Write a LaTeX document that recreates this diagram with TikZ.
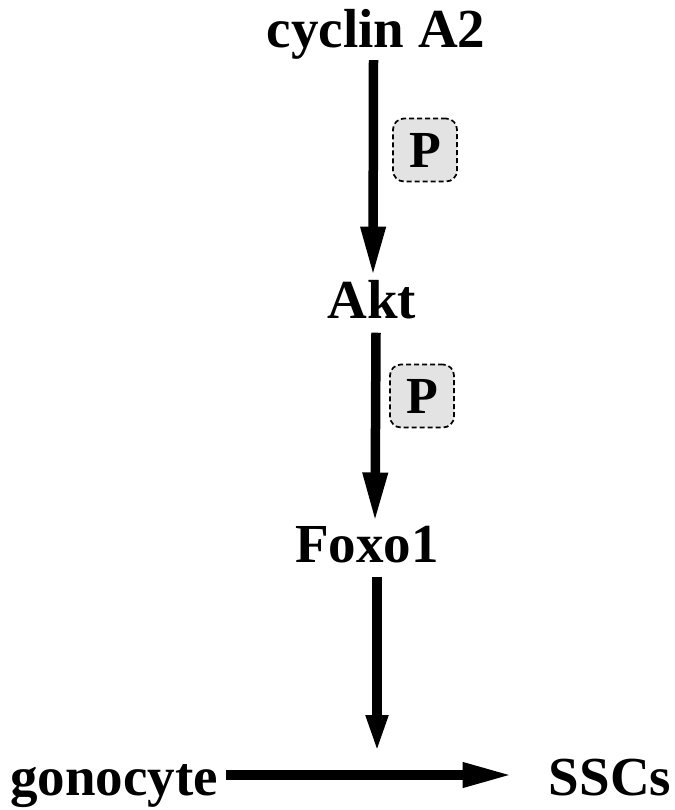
\documentclass[tikz,border=0pt]{standalone}
\usepackage{fontspec}
\setmainfont{Liberation Serif}
\usetikzlibrary{arrows.meta}
\tikzset{
  label/.style={font=\fontsize{55}{60}\selectfont\bfseries, inner sep=0pt, anchor=base},
  flow/.style={line width=9.5pt, -{Triangle[length=50pt,width=23pt]}},
  phos/.style={draw, line width=1.7pt, dash pattern=on 5pt off 3pt,
    rounded corners=11pt, minimum width=64pt, minimum height=63pt,
    fill=black!11, inner sep=0pt, font=\fontsize{52}{56}\selectfont\bfseries}
}
\begin{document}
\begin{tikzpicture}
\useasboundingbox (0pt,0pt) rectangle (674pt,-810pt);
% pathway labels
\node[label] (cyc) at (376pt,-48pt) {cyclin A2};
\node[label] (akt) at (372pt,-318pt) {Akt};
\node[label] (fox) at (367pt,-562pt) {Foxo1};
\node[label] (gon) at (114pt,-795pt) {gonocyte};
\node[label] (ssc) at (610pt,-795pt) {SSCs};
% phosphorylation marks
\node[phos] (p1) at (425pt,-150pt) {P};
\node[phos] (p2) at (422pt,-396pt) {P};
% junction where Foxo1 acts on the differentiation step
\coordinate (j) at (377pt,-775pt);
% arrows
\draw[flow] ([xshift=-2.5pt]cyc.south) -- ([xshift=1pt,yshift=3pt]akt.north);
\draw[flow] ([xshift=4pt,yshift=-14pt]akt.south) -- ([xshift=8pt,yshift=3pt]fox.north);
\draw[line width=9.5pt, -{Triangle[length=38pt,width=20pt]}] ([xshift=10pt,yshift=-14pt]fox.south) -- ([yshift=22pt]j);
\draw[flow] ([xshift=8pt]gon.east |- j) -- ([xshift=-36pt]ssc.west |- j);
\end{tikzpicture}
\end{document}
